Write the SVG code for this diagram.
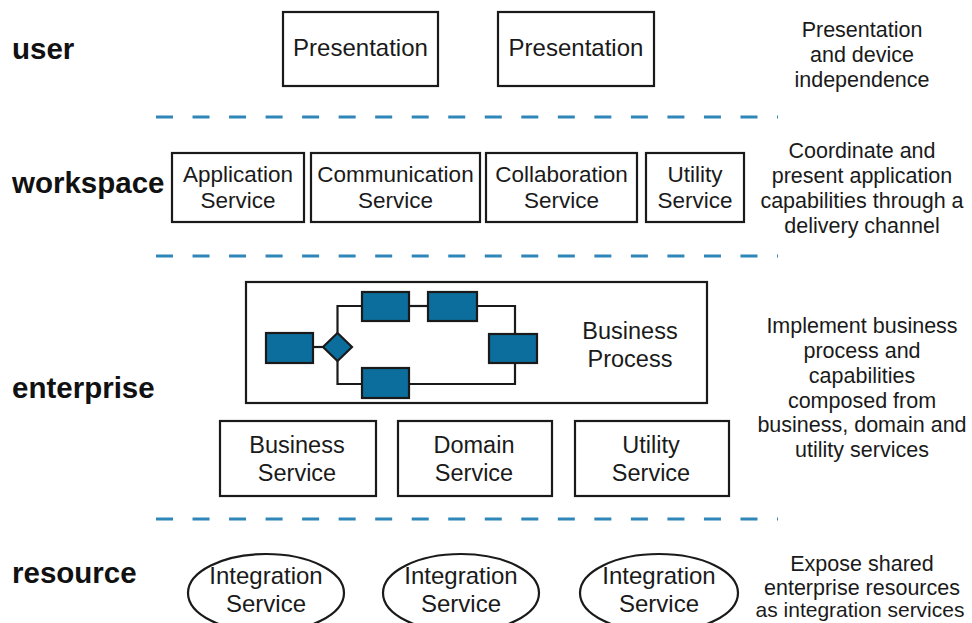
<svg xmlns="http://www.w3.org/2000/svg" width="972" height="623" viewBox="0 0 972 623">
<style>
  .lbl{font-family:"Liberation Sans",Arial,sans-serif;font-weight:bold;font-size:29.5px;fill:#111}
  .t{font-family:"Liberation Sans",Arial,sans-serif;font-size:22.5px;fill:#1a1a1a;text-anchor:middle}
  .tp{font-size:24px}
  .te{font-size:23.5px}
  .ti{font-size:24px}
  .d{font-family:"Liberation Sans",Arial,sans-serif;font-size:21.5px;fill:#1a1a1a;text-anchor:middle}
  .box{fill:#fff;stroke:#1a1a1a;stroke-width:2.2}
  .bp{fill:#0b6e9c;stroke:#1a1a1a;stroke-width:2.2}
  .ln{fill:none;stroke:#1a1a1a;stroke-width:2.2}
  .dash{stroke:#2f86b8;stroke-width:3;stroke-dasharray:17 19.53;fill:none}
</style>
<rect width="972" height="623" fill="#fff"/>
<g id="separators">
  <line class="dash" x1="156" y1="117" x2="778" y2="117"/>
  <line class="dash" x1="156" y1="256" x2="778" y2="256"/>
  <line class="dash" x1="156" y1="519" x2="778" y2="519"/>
</g>
<g id="layer-labels">
  <text class="lbl" x="12" y="59">user</text>
  <text class="lbl" x="12" y="193">workspace</text>
  <text class="lbl" x="12" y="398">enterprise</text>
  <text class="lbl" x="12" y="583">resource</text>
</g>
<g id="presentation1">
  <rect class="box" x="283" y="12" width="155" height="74"/>
  <text class="t tp" x="360.5" y="56">Presentation</text>
</g>
<g id="presentation2">
  <rect class="box" x="498" y="12" width="156" height="74"/>
  <text class="t tp" x="576" y="56">Presentation</text>
</g>
<g id="application-service">
  <rect class="box" x="172" y="153" width="132" height="69"/>
  <text class="t" x="238" y="182">Application</text>
  <text class="t" x="238" y="208">Service</text>
</g>
<g id="communication-service">
  <rect class="box" x="311" y="153" width="169" height="69"/>
  <text class="t" x="395.5" y="182">Communication</text>
  <text class="t" x="395.5" y="208">Service</text>
</g>
<g id="collaboration-service">
  <rect class="box" x="486" y="153" width="151" height="69"/>
  <text class="t" x="561.5" y="182">Collaboration</text>
  <text class="t" x="561.5" y="208">Service</text>
</g>
<g id="utility-service-ws">
  <rect class="box" x="646" y="153" width="98" height="69"/>
  <text class="t" x="695" y="182">Utility</text>
  <text class="t" x="695" y="208">Service</text>
</g>
<g id="business-process">
  <rect class="box" x="246" y="282" width="461" height="121"/>
  <g id="process-flow">
    <polyline class="ln" points="313,347 323,347"/>
    <polyline class="ln" points="337.5,333 337.5,306 362,306"/>
    <polyline class="ln" points="409,306 428,306"/>
    <polyline class="ln" points="477,306 515,306 515,334"/>
    <polyline class="ln" points="515,363 515,384 409,384"/>
    <polyline class="ln" points="337.5,361 337.5,384 362,384"/>
  </g>
  <rect class="bp" x="266" y="333" width="47" height="30"/>
  <polygon class="bp" points="337.5,333 352,347 337.5,361 323,347"/>
  <rect class="bp" x="362" y="292" width="47" height="29"/>
  <rect class="bp" x="428" y="292" width="49" height="29"/>
  <rect class="bp" x="489" y="334" width="48" height="29"/>
  <rect class="bp" x="362" y="368" width="47" height="30"/>
  <text class="t te" x="630" y="339">Business</text>
  <text class="t te" x="630" y="367">Process</text>
</g>
<g id="business-service">
  <rect class="box" x="220" y="421" width="156" height="75"/>
  <text class="t te" x="297" y="453">Business</text>
  <text class="t te" x="297" y="481">Service</text>
</g>
<g id="domain-service">
  <rect class="box" x="398" y="421" width="154" height="75"/>
  <text class="t te" x="474" y="453">Domain</text>
  <text class="t te" x="474" y="481">Service</text>
</g>
<g id="utility-service-ent">
  <rect class="box" x="575" y="421" width="154" height="75"/>
  <text class="t te" x="651" y="453">Utility</text>
  <text class="t te" x="651" y="481">Service</text>
</g>
<g id="integration-service1">
  <ellipse class="box" cx="266" cy="593" rx="78" ry="39"/>
  <text class="t ti" x="266" y="584">Integration</text>
  <text class="t ti" x="266" y="612">Service</text>
</g>
<g id="integration-service2">
  <ellipse class="box" cx="461" cy="593" rx="78" ry="39"/>
  <text class="t ti" x="461" y="584">Integration</text>
  <text class="t ti" x="461" y="612">Service</text>
</g>
<g id="integration-service3">
  <ellipse class="box" cx="659" cy="593" rx="79" ry="39"/>
  <text class="t ti" x="659" y="584">Integration</text>
  <text class="t ti" x="659" y="612">Service</text>
</g>
<g id="descriptions">
  <text class="d" x="862" y="37">Presentation</text>
  <text class="d" x="862" y="62">and device</text>
  <text class="d" x="862" y="87">independence</text>
  <text class="d" x="862" y="158">Coordinate and</text>
  <text class="d" x="862" y="183">present application</text>
  <text class="d" x="862" y="208">capabilities through a</text>
  <text class="d" x="862" y="233">delivery channel</text>
  <text class="d" x="862" y="333">Implement business</text>
  <text class="d" x="862" y="358">process and</text>
  <text class="d" x="862" y="383">capabilities</text>
  <text class="d" x="862" y="408">composed from</text>
  <text class="d" x="862" y="432">business, domain and</text>
  <text class="d" x="862" y="457">utility services</text>
  <text class="d" x="862" y="571">Expose shared</text>
  <text class="d" x="862" y="595">enterprise resources</text>
  <text class="d" x="860" y="617" style="font-size:21px">as integration services</text>
</g>
</svg>
